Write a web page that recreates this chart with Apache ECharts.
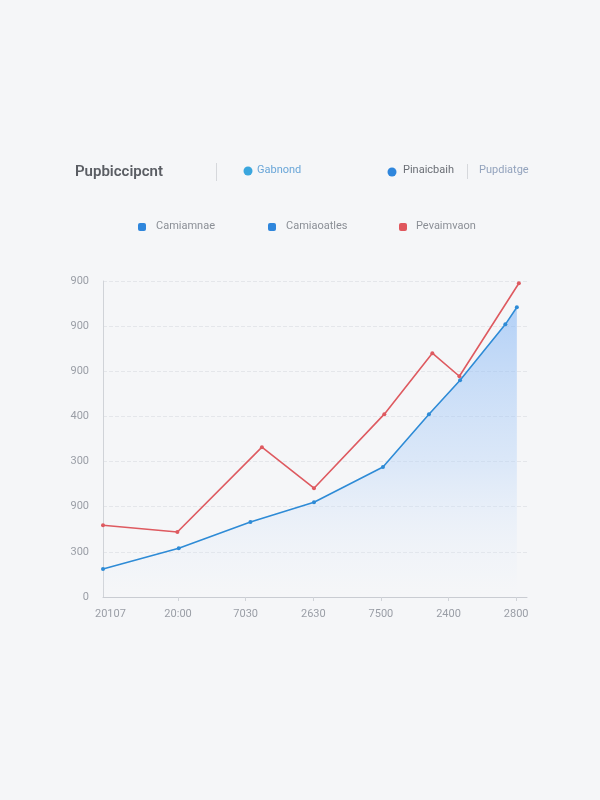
<!DOCTYPE html>
<html>
<head>
<meta charset="utf-8">
<script src="https://cdn.jsdelivr.net/npm/echarts@6/dist/echarts.min.js"></script>
<style>
html,body{margin:0;padding:0;background:#f5f6f8;}
#chart{width:600px;height:800px;}
</style>
</head>
<body>
<div id="chart"></div>
<script>
// Tick labels (as shown in the reference)
const xTickLabels = ['20107', '20:00', '7030', '2630', '7500', '2400', '2800'];
const yTickLabels = ['0', '300', '900', '300', '400', '900', '900', '900'];

// Series values: x positions in tick units, y values
const blueX = [-0.11, 1.01, 2.07, 3.01, 4.03, 4.71, 5.17, 5.84, 6.01];
const blueY = [62, 108, 166, 210, 288, 405, 480, 604, 642];
const redX  = [-0.11, 0.99, 2.24, 3.01, 4.05, 4.76, 5.16, 6.04];
const redY  = [159, 144, 332, 241, 405, 540, 489, 695];

// Header and legend texts
const titleText = 'Pupbiccipcnt';
const headerItems = ['Gabnond', 'Pinaicbaih', 'Pupdiatge'];
const legendItems = ['Camiamnae', 'Camiaoatles', 'Pevaimvaon'];

const blueData = blueX.map((x, i) => [x, blueY[i]]);
const redData = redX.map((x, i) => [x, redY[i]]);

const chart = echarts.init(document.getElementById('chart'));
const font = 'Roboto, "Noto Sans", sans-serif';
chart.setOption({
  backgroundColor: '#f5f6f8',
  animation: false,
  grid: {left: 103, right: 73, top: 281, bottom: 203, containLabel: false},
  xAxis: {
    type: 'value',
    min: -0.11, max: 6.16,
    axisLine: {show: true, onZero: false, lineStyle: {color: '#c9ccd2'}},
    axisTick: {show: true, customValues: [1, 2, 3, 4, 5, 6], length: 4, lineStyle: {color: '#d0d3d8'}},
    splitLine: {show: false},
    axisLabel: {
      customValues: [0, 1, 2, 3, 4, 5, 6],
      formatter: v => xTickLabels[Math.round(v)],
      color: '#9a9ea6', fontSize: 11, fontFamily: font, margin: 12
    }
  },
  yAxis: {
    type: 'value',
    min: 0, max: 700, interval: 100,
    axisLine: {show: true, onZero: false, lineStyle: {color: '#d0d3d8'}},
    axisTick: {show: false},
    splitLine: {lineStyle: {color: '#e4e6ea', type: 'dashed'}},
    axisLabel: {
      formatter: v => yTickLabels[Math.round(v / 100)],
      color: '#9a9ea6', fontSize: 11, fontFamily: font, margin: 14
    }
  },
  series: [
    {
      type: 'line', data: blueData, symbol: 'circle', symbolSize: 4,
      lineStyle: {color: '#2e8bd6', width: 1.6},
      itemStyle: {color: '#2e8bd6'},
      areaStyle: {
        color: new echarts.graphic.LinearGradient(0, 0, 0, 1, [
          {offset: 0, color: 'rgba(120,175,245,0.75)'},
          {offset: 0.55, color: 'rgba(180,210,248,0.55)'},
          {offset: 0.92, color: 'rgba(230,238,250,0.2)'},
          {offset: 1, color: 'rgba(245,246,248,0)'}
        ])
      },
      z: 2
    },
    {
      type: 'line', data: redData, symbol: 'circle', symbolSize: 4,
      lineStyle: {color: '#de5a60', width: 1.6},
      itemStyle: {color: '#de5a60'},
      z: 3
    }
  ],
  graphic: [
    {type: 'text', left: 75, top: 165, style: {text: titleText, fill: '#5a5d63', font: '600 15px ' + font}},
    {type: 'rect', shape: {x: 216, y: 163, width: 1, height: 18}, style: {fill: '#d6d8dc'}},
    {type: 'circle', shape: {cx: 248, cy: 171, r: 4.5}, style: {fill: '#3aa6de'}},
    {type: 'text', left: 257, top: 165, style: {text: headerItems[0], fill: '#6aa6d8', font: '11px ' + font}},
    {type: 'circle', shape: {cx: 392, cy: 172, r: 4.5}, style: {fill: '#2f86dc'}},
    {type: 'text', left: 403, top: 165, style: {text: headerItems[1], fill: '#6b6f76', font: '11px ' + font}},
    {type: 'rect', shape: {x: 467, y: 164, width: 1, height: 15}, style: {fill: '#d6d8dc'}},
    {type: 'text', left: 479, top: 165, style: {text: headerItems[2], fill: '#93a3bd', font: '11px ' + font}},

    {type: 'rect', shape: {x: 138, y: 223, width: 8, height: 8, r: 2}, style: {fill: '#2f86dc'}},
    {type: 'text', left: 156, top: 221, style: {text: legendItems[0], fill: '#8b8f96', font: '11px ' + font}},
    {type: 'rect', shape: {x: 268, y: 223, width: 8, height: 8, r: 2}, style: {fill: '#2f86dc'}},
    {type: 'text', left: 286, top: 221, style: {text: legendItems[1], fill: '#8b8f96', font: '11px ' + font}},
    {type: 'rect', shape: {x: 399, y: 223, width: 8, height: 8, r: 2}, style: {fill: '#e0575d'}},
    {type: 'text', left: 416, top: 221, style: {text: legendItems[2], fill: '#8b8f96', font: '11px ' + font}}
  ]
});
</script>
</body>
</html>
